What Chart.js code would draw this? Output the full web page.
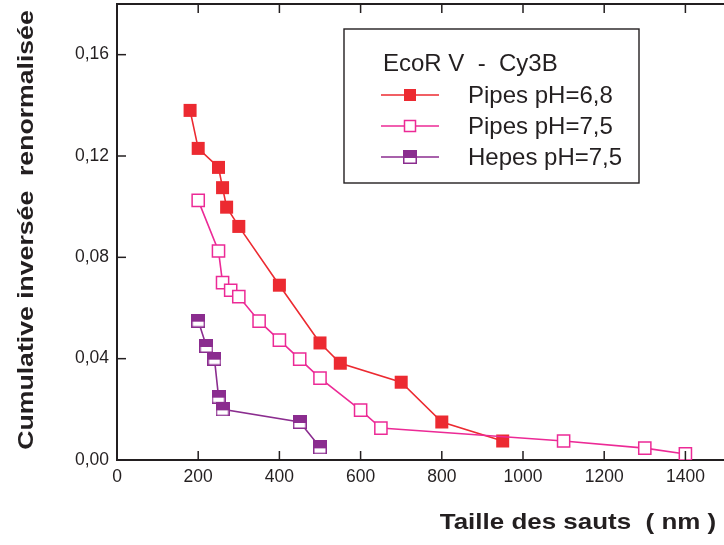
<!DOCTYPE html>
<html>
<head>
<meta charset="utf-8">
<script src="https://cdn.jsdelivr.net/npm/chart.js@4/dist/chart.umd.min.js"></script>
<style>
  html, body { margin: 0; padding: 0; background: #fff; overflow: hidden; }
  canvas { display: block; }
</style>
</head>
<body>
<canvas id="chart" width="740" height="545"></canvas>
<script>
// data
const pipes68X = [180, 200, 250, 260, 270, 300, 400, 500, 550, 700, 800, 950];
const pipes68Y = [0.138, 0.123, 0.1155, 0.1075, 0.0998, 0.0922, 0.069, 0.0462, 0.0382, 0.0307, 0.015, 0.0075];
const pipes75X = [200, 250, 260, 280, 300, 350, 400, 450, 500, 600, 650, 1100, 1300, 1400];
const pipes75Y = [0.1025, 0.0825, 0.07, 0.067, 0.0645, 0.0548, 0.0473, 0.0398, 0.0323, 0.0197, 0.0126, 0.0075, 0.0047, 0.0024];
const hepesX = [200, 220, 240, 250, 260, 450, 500];
const hepesY = [0.055, 0.045, 0.040, 0.025, 0.020, 0.015, 0.005];

const seriesNames = ['Pipes pH=6,8', 'Pipes pH=7,5', 'Hepes pH=7,5'];
const legendTitle = 'EcoR V  -  Cy3B';
const xTitle = 'Taille des sauts  ( nm )';
const yTitle = 'Cumulative inversée  renormalisée';

const ink = '#231F20';
const red = '#EC2A31';
const pink = '#EC2A96';
const purple = '#8B2D8F';
const FONT = '"Liberation Sans", Arial, sans-serif';
const PLOT_TOP = 4;

function toPoints(xs, ys) {
  return xs.map((x, i) => ({ x: x, y: ys[i] }));
}

// half filled square used by the Hepes series
function halfSquare(size) {
  const c = document.createElement('canvas');
  c.width = size; c.height = size;
  const g = c.getContext('2d');
  g.fillStyle = '#fff';
  g.fillRect(0, 0, size, size);
  g.fillStyle = purple;
  g.fillRect(0, 0, size, Math.round(size * 0.55));
  g.strokeStyle = purple;
  g.lineWidth = 1.5;
  g.strokeRect(0.75, 0.75, size - 1.5, size - 1.5);
  return c;
}
const hepesMarker = halfSquare(14);

// pin the top of the plot area
const topPlugin = {
  id: 'pinTop',
  afterLayout(chart) {
    const a = chart.chartArea;
    const y = chart.scales.y;
    a.top = PLOT_TOP;
    a.height = a.bottom - a.top;
    y.top = PLOT_TOP;
    y.height = y.bottom - y.top;
    y.configure();
  }
};

// inward ticks, top frame, titles and the boxed legend
const decorPlugin = {
  id: 'decor',
  afterDraw(chart) {
    const ctx = chart.ctx;
    const a = chart.chartArea;
    const xs = chart.scales.x, ys = chart.scales.y;
    ctx.save();
    ctx.strokeStyle = ink;
    ctx.lineWidth = 2;
    ctx.beginPath();
    ctx.moveTo(a.left - 1, a.top); ctx.lineTo(a.right, a.top);
    ctx.moveTo(a.left, a.top - 1); ctx.lineTo(a.left, a.bottom);
    ctx.stroke();
    ctx.lineWidth = 1.5;
    xs.ticks.forEach(t => {
      const px = xs.getPixelForValue(t.value);
      const L = t.value % 200 === 0 ? 9 : 5;
      ctx.beginPath();
      ctx.moveTo(px, a.bottom); ctx.lineTo(px, a.bottom - L);
      ctx.moveTo(px, a.top); ctx.lineTo(px, a.top + L);
      ctx.stroke();
    });
    ys.ticks.forEach(t => {
      const py = ys.getPixelForValue(t.value);
      const L = Math.round(t.value * 100) % 4 === 0 ? 9 : 5;
      ctx.beginPath();
      ctx.moveTo(a.left, py); ctx.lineTo(a.left + L, py);
      ctx.stroke();
    });

    // axis titles
    ctx.fillStyle = ink;
    ctx.font = 'bold 22px ' + FONT;
    ctx.textAlign = 'center';
    ctx.textBaseline = 'alphabetic';
    ctx.save();
    ctx.translate(578, 529);
    ctx.scale(1.18, 1);
    ctx.fillText(xTitle, 0, 0);
    ctx.restore();
    ctx.save();
    ctx.translate(33, 230);
    ctx.rotate(-Math.PI / 2);
    ctx.scale(1.21, 1);
    ctx.fillText(yTitle, 0, 0);
    ctx.restore();

    // legend
    ctx.lineWidth = 1.4;
    ctx.strokeStyle = ink;
    ctx.strokeRect(344, 29, 295, 154);
    ctx.font = '24px ' + FONT;
    ctx.textAlign = 'left';
    ctx.textBaseline = 'middle';
    ctx.fillText(legendTitle, 383, 64);
    const rows = [95, 126, 157];
    const cols = [red, pink, purple];
    rows.forEach((ry, i) => {
      ctx.strokeStyle = cols[i];
      ctx.lineWidth = 1.5;
      ctx.beginPath();
      ctx.moveTo(381, ry); ctx.lineTo(439, ry);
      ctx.stroke();
      if (i === 0) {
        ctx.fillStyle = red;
        ctx.fillRect(404, ry - 6, 12, 12);
      } else if (i === 1) {
        ctx.fillStyle = '#fff';
        ctx.fillRect(404, ry - 6, 12, 12);
        ctx.strokeStyle = pink;
        ctx.lineWidth = 1.5;
        ctx.strokeRect(404.5, ry - 5.5, 11, 11);
      } else {
        ctx.drawImage(hepesMarker, 403, ry - 7);
      }
      ctx.fillStyle = ink;
      ctx.fillText(seriesNames[i], 468, ry + 1);
    });
    ctx.restore();
  }
};

const oChart = new Chart(document.getElementById('chart').getContext('2d'), {
  type: 'scatter',
  data: {
    datasets: [
      {
        label: seriesNames[0],
        data: toPoints(pipes68X, pipes68Y),
        showLine: true,
        borderColor: red,
        borderWidth: 1.6,
        pointStyle: 'rect',
        pointRadius: 9.2,
        pointBackgroundColor: red,
        pointBorderWidth: 0,
        order: 3
      },
      {
        label: seriesNames[1],
        data: toPoints(pipes75X, pipes75Y),
        showLine: true,
        borderColor: pink,
        borderWidth: 1.6,
        pointStyle: 'rect',
        pointRadius: 8.6,
        pointBackgroundColor: '#fff',
        pointBorderColor: pink,
        pointBorderWidth: 1.5,
        order: 2
      },
      {
        label: seriesNames[2],
        data: toPoints(hepesX, hepesY),
        showLine: true,
        borderColor: purple,
        borderWidth: 1.6,
        pointStyle: hepesMarker,
        order: 1
      }
    ]
  },
  options: {
    responsive: false,
    animation: false,
    layout: { padding: { left: 0, right: 14, top: 4, bottom: 0 } },
    plugins: {
      legend: { display: false },
      tooltip: { enabled: false }
    },
    scales: {
      x: {
        type: 'linear',
        position: 'bottom',
        min: 0,
        max: 1500,
        grid: { drawOnChartArea: false, drawTicks: false },
        border: { display: true, color: ink, width: 2 },
        ticks: {
          stepSize: 100,
          autoSkip: false,
          maxRotation: 0,
          padding: 7,
          color: ink,
          font: { family: FONT, size: 17.5 },
          callback: v => (v % 200 === 0 ? String(v) : null)
        },
        afterFit: s => { s.height = 85; }
      },
      y: {
        type: 'linear',
        min: 0,
        max: 0.18,
        grid: { drawOnChartArea: false, drawTicks: false },
        border: { display: false },
        ticks: {
          stepSize: 0.02,
          autoSkip: false,
          padding: 8,
          color: ink,
          font: { family: FONT, size: 17.5 },
          callback: v => {
            const k = Math.round(v * 100);
            return k % 4 === 0 ? (k / 100).toFixed(2).replace('.', ',') : null;
          }
        },
        afterFit: s => { s.width = 117; }
      }
    }
  },
  plugins: [topPlugin, decorPlugin]
});
</script>
</body>
</html>
